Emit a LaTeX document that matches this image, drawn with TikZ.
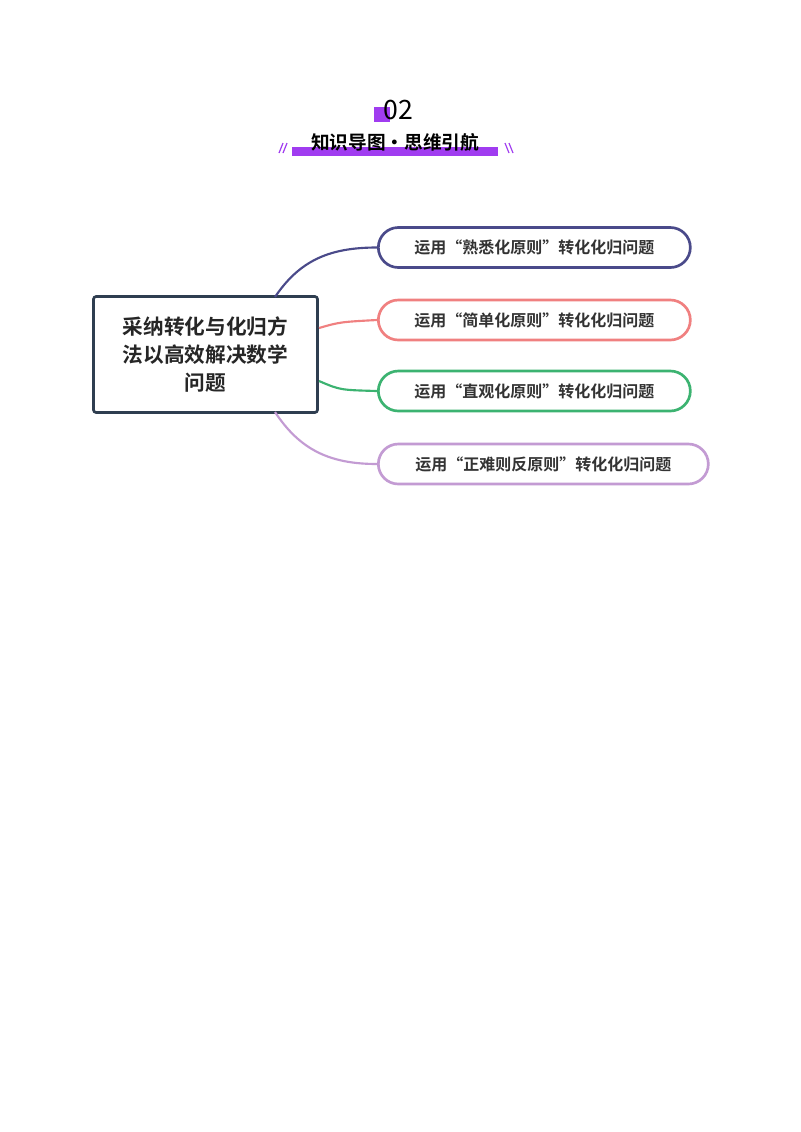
\documentclass[tikz,border=0pt]{standalone}
\usepackage{fontspec}
\setmainfont{Noto Sans CJK SC}[BoldFont={Noto Sans CJK SC Bold}]
\newfontfamily\cjkb{Noto Sans CJK SC Bold}
\definecolor{pur}{RGB}{160,60,240}
\definecolor{c0}{RGB}{47,62,80}
\definecolor{c1}{RGB}{74,74,138}
\definecolor{c2}{RGB}{240,128,128}
\definecolor{c3}{RGB}{60,179,113}
\definecolor{c4}{RGB}{195,155,211}
\begin{document}
\begin{tikzpicture}[x=0.75pt,y=-0.75pt,
  branch/.style={draw=#1,line width=2pt,rounded corners=15pt,minimum height=30pt,anchor=west,inner xsep=15pt,font=\cjkb\fontsize{12}{14}\selectfont,text=black!80},
  link/.style={draw=#1,line width=1.6pt}]
\useasboundingbox (0,0) rectangle (800,1132);
\fill[white] (0,0) rectangle (800,1132);
% header
\fill[pur] (374,107) rectangle (390,122);
\node (num) at (398,110) {\fontsize{20}{22}\selectfont 02};
\fill[pur] (292,147) rectangle (498,156);
\node (title) at (395,142) {\cjkb\fontsize{14}{16}\selectfont 知识导图·思维引航};
\draw[pur,line width=0.9pt] (279,153)--(283,143) (283,153)--(287,143) (505,143)--(509,153) (509,143)--(513,153);
% main
\node[draw=c0,line width=2pt,rounded corners=2pt,minimum width=168pt,minimum height=87pt,align=center,font=\cjkb\fontsize{15.5}{21}\selectfont,text=black!85] (main) at (205.5,354.5) {采纳转化与化归方\\法以高效解决数学\\问题};
\node[branch=c1,minimum width=234pt] (b1) at (377,247.5) {运用“熟悉化原则”转化化归问题};
\node[branch=c2,minimum width=234pt] (b2) at (377,320) {运用“简单化原则”转化化归问题};
\node[branch=c3,minimum width=234pt] (b3) at (377,391) {运用“直观化原则”转化化归问题};
\node[branch=c4,minimum width=247.5pt] (b4) at (377,464) {运用“正难则反原则”转化化归问题};
\coordinate (s1) at (275,297);
\coordinate (s4) at (275,412);
\coordinate (s2) at (319,328);
\coordinate (s3) at (319,381);
\draw[link=c1] (s1) .. controls (300,260) and (330,247.5) .. (b1.west);
\draw[link=c2] (s2) .. controls (340,322) .. (b2.west);
\draw[link=c3] (s3) .. controls (340,390) .. (b3.west);
\draw[link=c4] (s4) .. controls (300,450) and (330,464) .. (b4.west);
\end{tikzpicture}
\end{document}
